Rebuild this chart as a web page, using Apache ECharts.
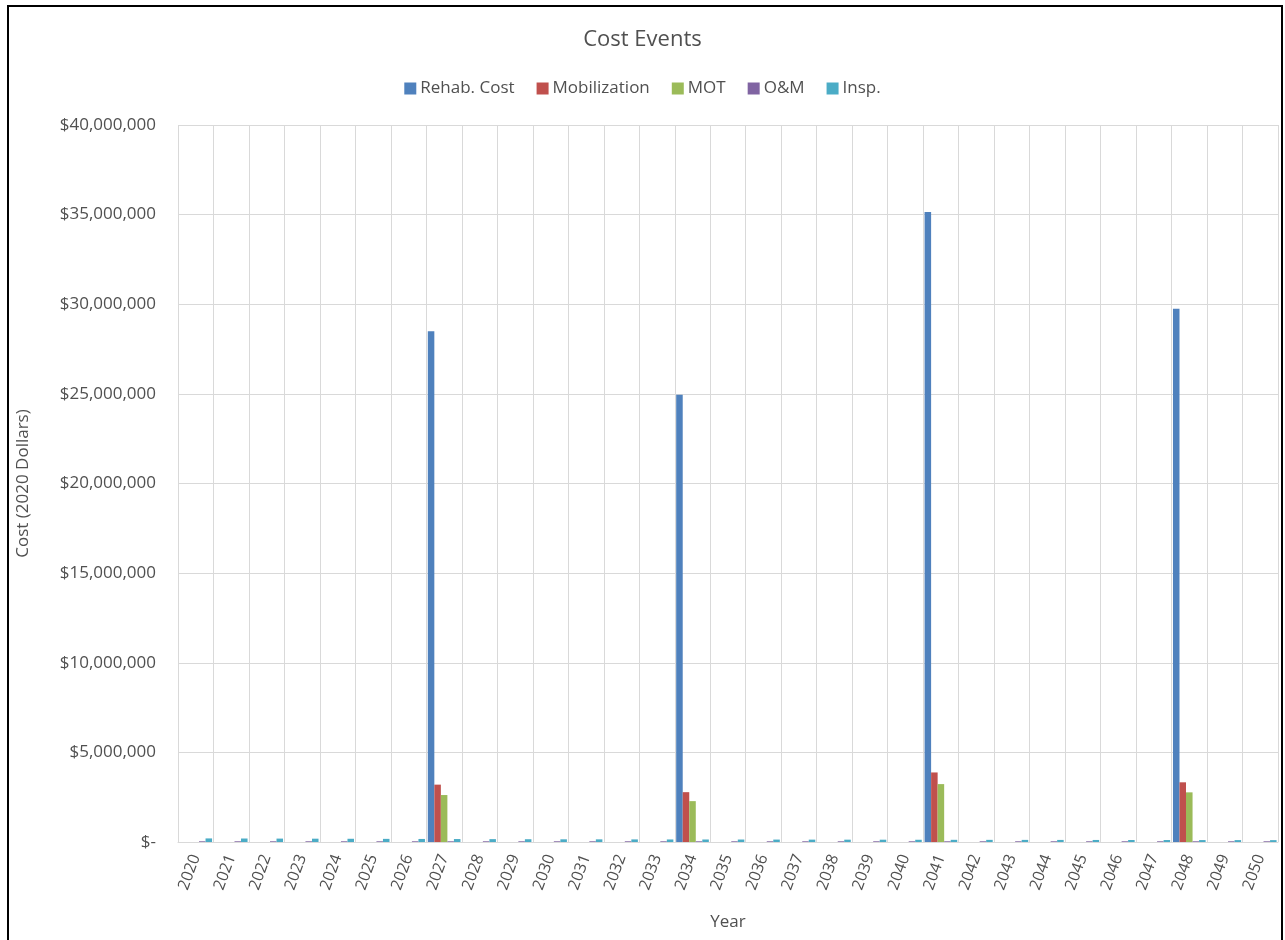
<!DOCTYPE html>
<html>
<head>
<meta charset="utf-8">
<script src="https://cdn.jsdelivr.net/npm/echarts@6/dist/echarts.min.js"></script>
<style>
html,body{margin:0;padding:0;background:#fff;}
#frame{position:absolute;left:7px;top:5px;width:1276px;height:940px;border:2px solid #000;border-bottom:none;box-sizing:border-box;}
#chart{position:absolute;left:0;top:0;width:1285px;height:940px;}
</style>
</head>
<body>
<div id="frame"></div>
<div id="chart"></div>
<script>
const years = ['2020','2021','2022','2023','2024','2025','2026','2027','2028','2029','2030','2031','2032','2033','2034','2035','2036','2037','2038','2039','2040','2041','2042','2043','2044','2045','2046','2047','2048','2049','2050'];
const rehabCost = [0,0,0,0,0,0,0,28500000,0,0,0,0,0,0,24950000,0,0,0,0,0,0,35150000,0,0,0,0,0,0,29750000,0,0];
const mobilization = [0,0,0,0,0,0,0,3200000,0,0,0,0,0,0,2780000,0,0,0,0,0,0,3880000,0,0,0,0,0,0,3330000,0,0];
const mot = [0,0,0,0,0,0,0,2620000,0,0,0,0,0,0,2280000,0,0,0,0,0,0,3230000,0,0,0,0,0,0,2770000,0,0];
const om = [40000,40000,40000,40000,40000,40000,40000,40000,40000,40000,40000,40000,40000,40000,40000,40000,40000,40000,40000,40000,40000,40000,40000,40000,40000,40000,40000,40000,40000,40000,40000];
const insp = [200000,195000,190000,185000,180000,175000,170000,165000,160000,155000,150000,148000,145000,142000,140000,138000,135000,132000,130000,128000,125000,122000,120000,118000,116000,114000,112000,110000,108000,106000,104000];
const yTicks = [0,5000000,10000000,15000000,20000000,25000000,30000000,35000000,40000000];

const FONT = '"Open Sans", "Noto Sans", sans-serif';
const TXT = '#505050';

function fmt(v){
  if (v === 0) return '$-';
  return '$' + v.toString().replace(/\B(?=(\d{3})+(?!\d))/g, ',');
}

const chart = echarts.init(document.getElementById('chart'));
const mk = (name, data, color) => ({
  name, type: 'bar', data,
  itemStyle: { color },
  barGap: '0%', barCategoryGap: '8%',
  emphasis: { disabled: true }
});
chart.setOption({
  animation: false,
  textStyle: { fontFamily: FONT },
  title: {
    text: 'Cost Events', left: 'center', top: 24,
    textStyle: { fontFamily: FONT, fontSize: 22, fontWeight: 'normal', color: TXT }
  },
  legend: {
    top: 75, left: 'center', itemWidth: 12, itemHeight: 12, itemGap: 22, icon: 'rect',
    textStyle: { fontFamily: FONT, fontSize: 17, color: TXT, padding: [0,0,0,-1] },
    data: ['Rehab. Cost','Mobilization','MOT','O&M','Insp.']
  },
  grid: { left: 178, right: 7, top: 125, bottom: 98, containLabel: false },
  xAxis: {
    type: 'category', data: years,
    name: 'Year', nameLocation: 'middle', nameGap: 72,
    nameTextStyle: { fontFamily: FONT, fontSize: 17, color: TXT },
    axisLine: { show: true, lineStyle: { color: '#d9d9d9' } },
    axisTick: { show: false },
    axisLabel: { rotate: 70, fontSize: 16, color: TXT, fontFamily: FONT, margin: 13, interval: 0 },
    splitLine: { show: true, interval: 0, lineStyle: { color: '#d9d9d9', width: 1 } }
  },
  yAxis: {
    type: 'value', min: 0, max: 40000000, interval: 5000000,
    name: 'Cost (2020 Dollars)', nameLocation: 'middle', nameGap: 146, nameRotate: 90,
    nameTextStyle: { fontFamily: FONT, fontSize: 17, color: TXT },
    axisLine: { show: false }, axisTick: { show: false },
    axisLabel: { formatter: fmt, fontSize: 17, color: TXT, fontFamily: FONT, margin: 22 },
    splitLine: { lineStyle: { color: '#d9d9d9', width: 1 } }
  },
  series: [
    mk('Rehab. Cost', rehabCost, '#4F81BD'),
    mk('Mobilization', mobilization, '#C0504D'),
    mk('MOT', mot, '#9BBB59'),
    mk('O&M', om, '#8064A2'),
    mk('Insp.', insp, '#4BACC6')
  ]
});
</script>
</body>
</html>
